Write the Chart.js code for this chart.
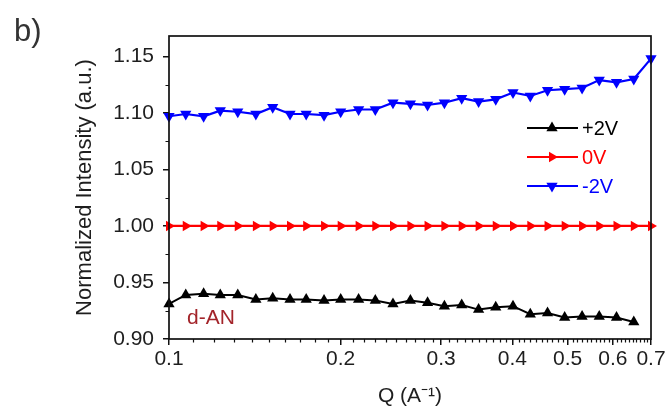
<!DOCTYPE html>
<html>
<head>
<meta charset="utf-8">
<script src="https://cdn.jsdelivr.net/npm/chart.js@4.4.1/dist/chart.umd.min.js"></script>
<style>
  html, body { margin: 0; padding: 0; background: #fff; }
  #wrap { width: 665px; height: 413px; position: relative; }
</style>
</head>
<body>
<div id="wrap"><canvas id="c" width="665" height="413"></canvas></div>
<script>
// ---- data ----
const qValues = [0.100, 0.107, 0.115, 0.123, 0.132, 0.142, 0.152, 0.163, 0.174, 0.187,
                 0.200, 0.215, 0.230, 0.247, 0.265, 0.284, 0.304, 0.326, 0.349, 0.374,
                 0.401, 0.430, 0.461, 0.494, 0.530, 0.568, 0.609, 0.653, 0.700];
const plus2V  = [0.931, 0.939, 0.940, 0.939, 0.939, 0.935, 0.936, 0.935, 0.935, 0.934,
                 0.935, 0.935, 0.934, 0.931, 0.934, 0.932, 0.929, 0.930, 0.926, 0.928,
                 0.929, 0.922, 0.923, 0.919, 0.920, 0.920, 0.919, 0.915];
const zeroV   = [1.000, 1.000, 1.000, 1.000, 1.000, 1.000, 1.000, 1.000, 1.000, 1.000,
                 1.000, 1.000, 1.000, 1.000, 1.000, 1.000, 1.000, 1.000, 1.000, 1.000,
                 1.000, 1.000, 1.000, 1.000, 1.000, 1.000, 1.000, 1.000, 1.000];
const minus2V = [1.097, 1.099, 1.097, 1.102, 1.101, 1.099, 1.105, 1.099, 1.099, 1.098,
                 1.101, 1.103, 1.103, 1.109, 1.108, 1.107, 1.109, 1.113, 1.110, 1.112,
                 1.118, 1.115, 1.120, 1.121, 1.122, 1.129, 1.127, 1.130, 1.148];
const seriesNames = ['+2V', '0V', '-2V'];
const xTicks = [0.1, 0.2, 0.3, 0.4, 0.5, 0.6, 0.7];
const xTickLabels = ['0.1', '0.2', '0.3', '0.4', '0.5', '0.6', '0.7'];
const yTicks = [0.90, 0.95, 1.00, 1.05, 1.10, 1.15];
const yTickLabels = ['0.90', '0.95', '1.00', '1.05', '1.10', '1.15'];
const yMinorTicks = [0.925, 0.975, 1.025, 1.075, 1.125];

function pts(arr) { return arr.map((v, i) => ({ x: qValues[i], y: v })); }

const FONT = "'Liberation Sans', Arial, sans-serif";
const INK = '#1e1e1e';

function drawTri(ctx, x, y, r, rotDeg, color) {
  let rad = rotDeg * Math.PI / 180;
  ctx.beginPath();
  for (let k = 0; k < 3; k++) {
    const px = x + Math.sin(rad) * r, py = y - Math.cos(rad) * r;
    if (k === 0) ctx.moveTo(px, py); else ctx.lineTo(px, py);
    rad += 2 * Math.PI / 3;
  }
  ctx.closePath();
  ctx.fillStyle = color; ctx.fill();
}

const decor = {
  id: 'decor',
  afterDraw(chart) {
    const { ctx, chartArea: a, scales } = chart;
    ctx.save();
    // frame
    ctx.strokeStyle = '#111'; ctx.lineWidth = 1.7;
    ctx.strokeRect(a.left, a.top, a.right - a.left, a.bottom - a.top);
    // minor ticks
    ctx.lineWidth = 1.2; ctx.strokeStyle = '#111';
    ctx.beginPath();
    yMinorTicks.forEach(v => {
      const py = Math.round(scales.y.getPixelForValue(v)) + 0.5;
      ctx.moveTo(a.left - 3.5, py); ctx.lineTo(a.left, py);
    });
    for (let d = 1; d <= 6; d++) {
      for (let s = 1; s <= 9; s++) {
        const v = (d + s / 10) / 10;
        if (v >= 0.7) break;
        const px = Math.round(scales.x.getPixelForValue(v)) + 0.5;
        ctx.moveTo(px, a.bottom); ctx.lineTo(px, a.bottom + 3.5);
      }
    }
    ctx.stroke();
    // legend
    const ly = [128, 157, 186];
    chart.data.datasets.forEach((ds, i) => {
      const y = ly[i];
      ctx.strokeStyle = ds.borderColor; ctx.lineWidth = 2;
      ctx.beginPath(); ctx.moveTo(527, y); ctx.lineTo(578, y); ctx.stroke();
      drawTri(ctx, 552, y, ds.pointRadius, ds.pointRotation, ds.borderColor);
      ctx.fillStyle = ds.borderColor;
      ctx.font = '20px ' + FONT;
      ctx.textBaseline = 'middle'; ctx.textAlign = 'left';
      ctx.fillText(ds.label, 582, y + 1);
    });
    // annotation
    ctx.fillStyle = '#a3242a';
    ctx.font = '21px ' + FONT;
    ctx.textBaseline = 'middle'; ctx.textAlign = 'left';
    ctx.fillText('d-AN', 187, 318);
    // panel label
    ctx.fillStyle = '#333';
    ctx.font = '31px ' + FONT;
    ctx.textBaseline = 'alphabetic';
    ctx.fillText('b)', 14, 41);
    ctx.restore();
  }
};

new Chart(document.getElementById('c'), {
  type: 'line',
  data: {
    datasets: [
      { label: seriesNames[0], data: pts(plus2V), borderColor: '#000000', backgroundColor: '#000000',
        borderWidth: 2, pointStyle: 'triangle', pointRotation: 0, pointRadius: 6.5, pointBorderWidth: 0, clip: false },
      { label: seriesNames[1], data: pts(zeroV), borderColor: '#ff0000', backgroundColor: '#ff0000',
        borderWidth: 2.2, pointStyle: 'triangle', pointRotation: 90, pointRadius: 6, pointBorderWidth: 0, clip: false },
      { label: seriesNames[2], data: pts(minus2V), borderColor: '#0000ff', backgroundColor: '#0000ff',
        borderWidth: 2.2, pointStyle: 'triangle', pointRotation: 180, pointRadius: 6.5, pointBorderWidth: 0, clip: false }
    ]
  },
  options: {
    responsive: false,
    animation: false,
    events: [],
    layout: { padding: { left: 0, right: 14, top: 36, bottom: 0 } },
    plugins: { legend: { display: false }, tooltip: { enabled: false } },
    elements: { line: { tension: 0 } },
    scales: {
      x: {
        type: 'logarithmic',
        min: 0.1, max: 0.7,
        afterBuildTicks(s) { s.ticks = xTicks.map(v => ({ value: v, major: false })); },
        afterFit(s) { s.height = 74; s.paddingLeft = 0; s.paddingRight = 0; },
        border: { display: false },
        grid: { drawOnChartArea: false, drawTicks: true, tickLength: 6, color: '#111', lineWidth: 1.5 },
        ticks: {
          autoSkip: false, maxRotation: 0, minRotation: 0, padding: 2,
          color: INK, font: { family: FONT, size: 21 },
          callback(v, i) { return xTickLabels[i]; }
        },
        title: { display: true, text: 'Q (A⁻¹)', color: INK, font: { family: FONT, size: 21 },
                 padding: { top: 0, bottom: 4 } }
      },
      y: {
        min: 0.90, max: 1.168,
        afterBuildTicks(s) { s.ticks = yTicks.map(v => ({ value: v })); },
        afterFit(s) { s.width = 169; s.paddingTop = 0; s.paddingBottom = 0; },
        border: { display: false },
        grid: { drawOnChartArea: false, drawTicks: true, tickLength: 6, color: '#111', lineWidth: 1.5 },
        ticks: {
          padding: 9, color: INK, font: { family: FONT, size: 21 },
          callback(v, i) { return yTickLabels[i]; }
        },
        title: { display: true, text: 'Normalized Intensity (a.u.)', color: INK, font: { family: FONT, size: 22 },
                 padding: { top: 72, bottom: 0 } }
      }
    }
  },
  plugins: [decor]
});
</script>
</body>
</html>
